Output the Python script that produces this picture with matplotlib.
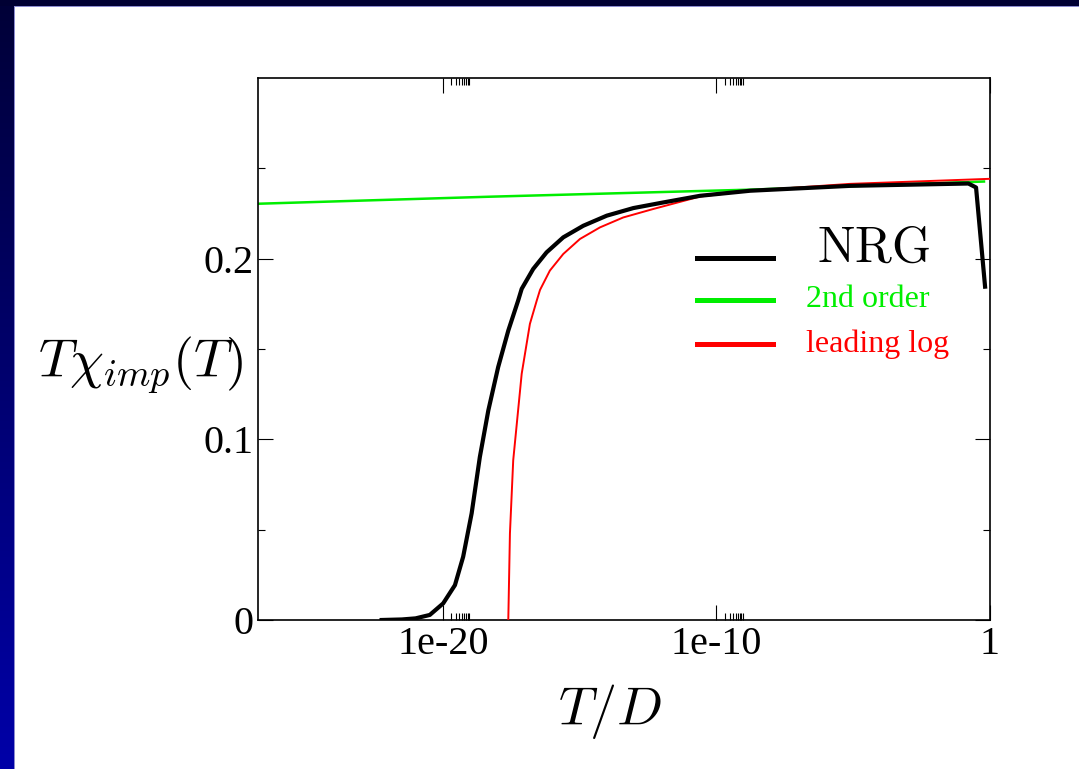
import numpy as np
import matplotlib
matplotlib.use("Agg")
import matplotlib.pyplot as plt
from matplotlib.patches import Rectangle

plt.rcParams["mathtext.fontset"] = "cm"
plt.rcParams["font.family"] = ["Liberation Serif", "DejaVu Serif"]

# NRG curve (log10 T/D, T chi_imp)
nrg_logt = [-22.24, -21.5, -21.0, -20.48, -19.99, -19.56, -19.26, -18.95, -18.65,
            -18.34, -17.98, -17.61, -17.25, -17.12, -16.70, -16.21, -15.60, -14.87,
            -14.01, -13.04, -11.95, -10.60, -8.77, -5.12, -0.79, -0.51, -0.18]
nrg_chi = [0.0, 0.0003, 0.0009, 0.0028, 0.0092, 0.0193, 0.035, 0.059, 0.0902,
           0.116, 0.140, 0.1602, 0.1768, 0.1833, 0.1943, 0.2035, 0.2118, 0.2182,
           0.2238, 0.228, 0.2311, 0.2348, 0.2376, 0.2403, 0.2416, 0.2394, 0.1845]

# second-order perturbation theory
pt2_logt = [-26.76, -18.28, -8.77, -0.22]
pt2_chi = [0.2304, 0.2343, 0.2382, 0.2427]

# leading-log result
ll_logt = [-17.61, -17.55, -17.43, -17.12, -16.82, -16.57, -16.45, -16.09, -15.60,
           -14.99, -14.26, -13.41, -12.31, -10.60, -8.77, -5.12, 0.0]
ll_chi = [0.0, 0.0479, 0.0884, 0.1363, 0.1639, 0.1768, 0.1827, 0.1934, 0.2026,
          0.2109, 0.2173, 0.2228, 0.2275, 0.2344, 0.2376, 0.2414, 0.2442]

xticks = [1e-20, 1e-10, 1.0]
xticklabels = ["1e-20", "1e-10", "1"]
yticks = [0.0, 0.1, 0.2]
yticklabels = ["0", "0.1", "0.2"]

W, H = 1079, 769
fig = plt.figure(figsize=(W / 100, H / 100), dpi=100)
fig.patch.set_facecolor("white")

# slide frame: dark top strip and blue gradient on the left
grad = fig.add_axes([0, 0, 14 / W, 1 - 6 / H])
grad.imshow(np.linspace(0, 1, 256).reshape(-1, 1), aspect="auto", origin="upper",
            cmap=matplotlib.colors.LinearSegmentedColormap.from_list(
                "slide", ["#000038", "#0000a8"]), extent=[0, 1, 0, 1])
grad.set_axis_off()
fig.add_artist(Rectangle((14 / W, 0), 1.2 / W, 1 - 6 / H, transform=fig.transFigure,
                         color="#8c8cd0", lw=0, zorder=5))
fig.add_artist(Rectangle((14 / W, 1 - 7 / H), 1, 1.2 / H, transform=fig.transFigure,
                         color="#8c8cd0", lw=0, zorder=5))
fig.add_artist(Rectangle((0, 1 - 6 / H), 1, 6 / H, transform=fig.transFigure,
                         color="#000033", lw=0, zorder=6))

ax = fig.add_axes([258 / W, 1 - 620 / H, 732 / W, 542 / H])
ax.plot(10.0 ** np.array(pt2_logt), pt2_chi, color="#00ee00", lw=1.8, zorder=2)
ax.plot(10.0 ** np.array(ll_logt), ll_chi, color="#ff0000", lw=1.4, zorder=3)
ax.plot(10.0 ** np.array(nrg_logt), nrg_chi, color="black", lw=3.0, zorder=4)

ax.set_xscale("log")
ax.set_xlim(10 ** -26.76, 1.0)
ax.set_ylim(0, 0.3)
ax.set_xticks(xticks)
ax.set_xticklabels(xticklabels)
ax.set_xticks([k * d for d in (1e-20, 1e-10) for k in range(2, 10)], minor=True)
ax.set_yticks(yticks)
ax.set_yticklabels(yticklabels)
ax.set_yticks([0.05, 0.15, 0.25], minor=True)
ax.tick_params(which="both", direction="in", top=True, right=True, width=0.8,
               labelsize=29)
ax.tick_params(which="major", length=10.5)
ax.tick_params(which="minor", length=5)
ax.tick_params(axis="x", which="major", pad=4)
ax.tick_params(axis="y", which="major", pad=3)
for s in ax.spines.values():
    s.set_linewidth(1.2)

# legend drawn by hand, gnuplot style
lx = [0.5997, 0.7036]
for yy, c in ((0.6679, "black"), (0.5904, "#00ee00"), (0.5092, "#ff0000")):
    ax.plot(lx, [yy, yy], color=c, lw=3.6, transform=ax.transAxes, clip_on=False)
ax.text(0.7637, 0.6605, r"$\mathrm{NRG}$", transform=ax.transAxes, fontsize=36,
        va="baseline", ha="left")
ax.text(0.7486, 0.578, "2nd order", transform=ax.transAxes, fontsize=23,
        color="#00ee00", va="baseline", ha="left")
ax.text(0.7486, 0.495, "leading log", transform=ax.transAxes, fontsize=23,
        color="#ff0000", va="baseline", ha="left")

fig.text(38 / W, 1 - 377 / H, r"$T\chi_{imp}(T)$", fontsize=39, va="baseline", ha="left")
fig.text(610 / W, 1 - 725 / H, r"$T/D$", fontsize=39, va="baseline", ha="center")

fig.savefig("out.png", dpi=100)
